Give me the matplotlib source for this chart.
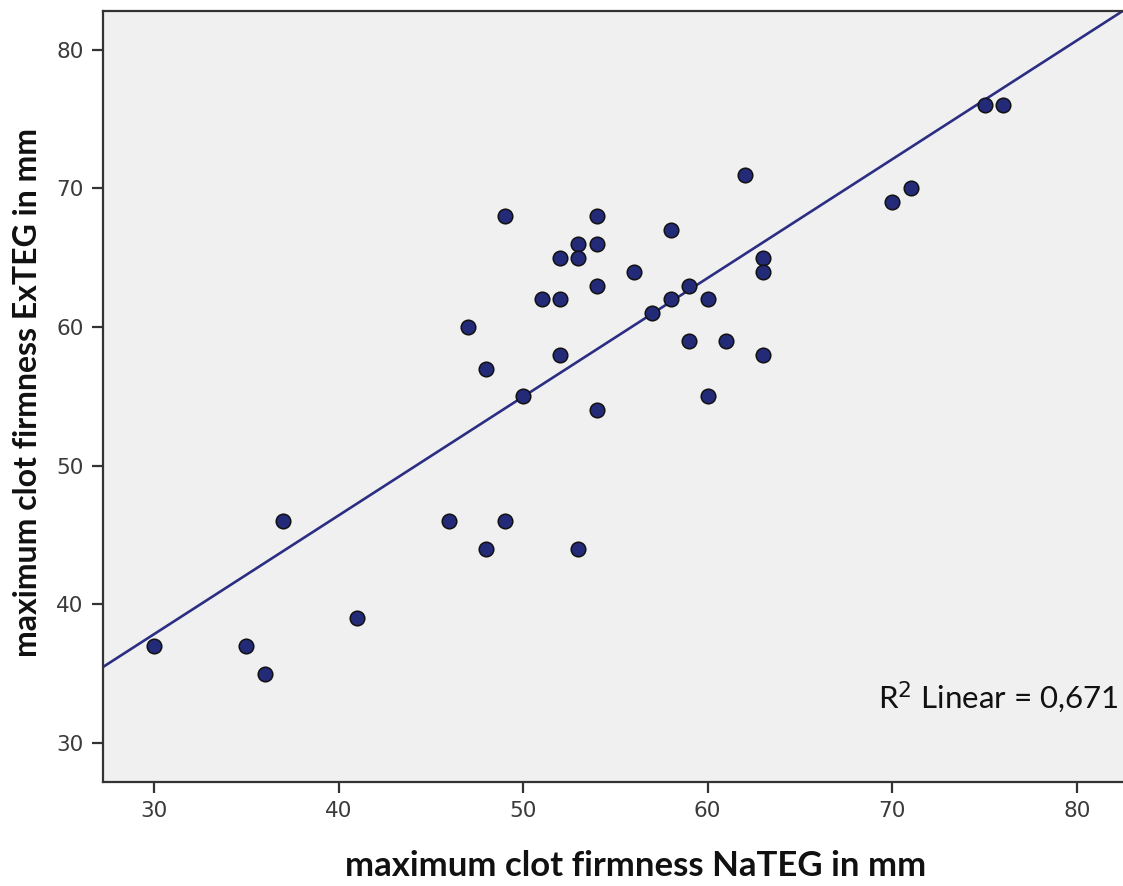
import numpy as np
import matplotlib
matplotlib.use("Agg")
import matplotlib.pyplot as plt

# maximum clot firmness (mm) per sample
nateg = [30, 35, 36, 37, 41, 46, 48, 49, 53, 47, 48, 49, 50, 51, 52, 52, 52,
         53, 53, 54, 54, 54, 54, 56, 57, 58, 58, 59, 59, 60, 60, 61, 62, 63,
         63, 63, 70, 71, 75, 76]
exteg = [37, 37, 35, 46, 39, 46, 44, 46, 44, 60, 57, 68, 55, 62, 65, 62, 58,
         66, 65, 68, 66, 63, 54, 64, 61, 67, 62, 63, 59, 62, 55, 59, 71, 65,
         64, 58, 69, 70, 76, 76]
x_ticks = [30, 40, 50, 60, 70, 80]
y_ticks = [30, 40, 50, 60, 70, 80]
r2_text = "R$^2$ Linear = 0,671"

x = np.array(nateg, dtype=float)
y = np.array(exteg, dtype=float)
slope, intercept = np.polyfit(x, y, 1)

fig = plt.figure(figsize=(11.23, 8.86), dpi=100)
ax = fig.add_axes([0.0917, 0.1174, 0.9083, 0.8702])
ax.set_facecolor("#f0f0f0")

xlim = (27.24, 82.5)
ylim = (27.2, 82.8)
ax.set_xlim(*xlim)
ax.set_ylim(*ylim)

xs = np.array(xlim)
ax.plot(xs, intercept + slope * xs, color="#2b2e83", lw=1.9, zorder=2)
ax.scatter(x, y, s=110, color="#232a78", edgecolor="#111111", linewidth=1.1,
           zorder=3)

ax.set_xticks(x_ticks)
ax.set_yticks(y_ticks)
ax.tick_params(axis="both", length=8, width=1.6, color="#333333",
               labelsize=15.5, labelcolor="#3a3a3a", pad=6,
               labelfontfamily="DejaVu Sans")
for side in ("top", "left", "bottom"):
    ax.spines[side].set_linewidth(1.6)
    ax.spines[side].set_color("#333333")
ax.spines["right"].set_visible(False)

ax.set_xlabel("maximum clot firmness NaTEG in mm", family="Lato",
              fontsize=25, fontweight="bold", color="#111111")
ax.xaxis.set_label_coords(0.522, -0.088)
ax.set_ylabel("maximum clot firmness ExTEG in mm", family="Lato",
              fontsize=23, fontweight="bold", color="#111111")
ax.yaxis.set_label_coords(-0.060, 0.505)

ax.text(0.996, 0.110, r2_text, transform=ax.transAxes, ha="right",
        va="center", fontsize=22.5, family="Lato", color="#111111")

fig.savefig("out.png", dpi=100)
